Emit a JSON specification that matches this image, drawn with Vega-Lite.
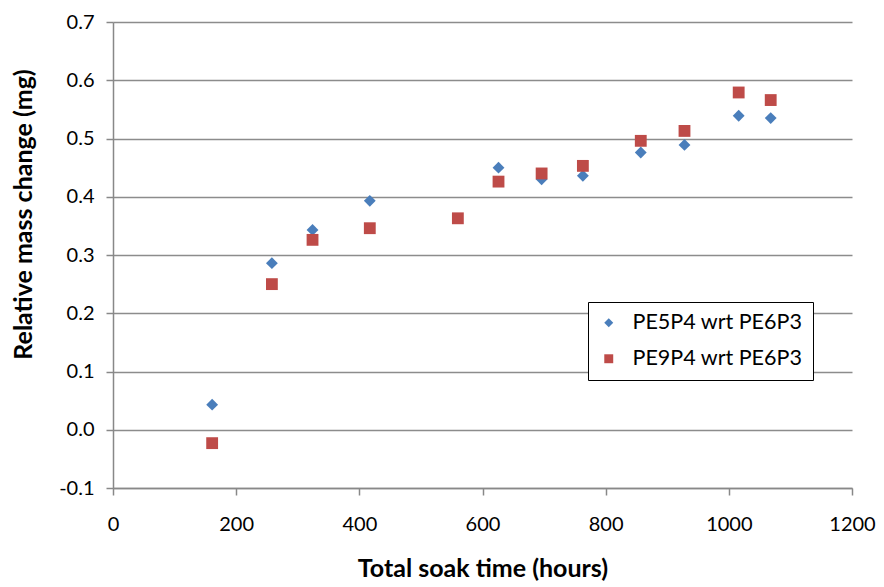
{
  "$schema": "https://vega.github.io/schema/vega-lite/v6.json",
  "width": 739,
  "height": 466,
  "autosize": {"type": "none"},
  "padding": {"left": 113, "top": 22, "right": 32, "bottom": 99},
  "background": "white",
  "config": {
    "font": "Lato",
    "view": {"stroke": null}
  },
  "data": {
    "values": [
      {"series": "PE5P4 wrt PE6P3", "time": 161, "change": 0.043},
      {"series": "PE5P4 wrt PE6P3", "time": 258, "change": 0.286},
      {"series": "PE5P4 wrt PE6P3", "time": 324, "change": 0.343},
      {"series": "PE5P4 wrt PE6P3", "time": 417, "change": 0.393},
      {"series": "PE5P4 wrt PE6P3", "time": 626, "change": 0.450},
      {"series": "PE5P4 wrt PE6P3", "time": 696, "change": 0.430},
      {"series": "PE5P4 wrt PE6P3", "time": 763, "change": 0.436},
      {"series": "PE5P4 wrt PE6P3", "time": 857, "change": 0.476},
      {"series": "PE5P4 wrt PE6P3", "time": 928, "change": 0.489},
      {"series": "PE5P4 wrt PE6P3", "time": 1016, "change": 0.539},
      {"series": "PE5P4 wrt PE6P3", "time": 1068, "change": 0.535},
      {"series": "PE9P4 wrt PE6P3", "time": 161, "change": -0.023},
      {"series": "PE9P4 wrt PE6P3", "time": 258, "change": 0.250},
      {"series": "PE9P4 wrt PE6P3", "time": 324, "change": 0.326},
      {"series": "PE9P4 wrt PE6P3", "time": 417, "change": 0.346},
      {"series": "PE9P4 wrt PE6P3", "time": 560, "change": 0.363},
      {"series": "PE9P4 wrt PE6P3", "time": 626, "change": 0.426},
      {"series": "PE9P4 wrt PE6P3", "time": 696, "change": 0.440},
      {"series": "PE9P4 wrt PE6P3", "time": 763, "change": 0.453},
      {"series": "PE9P4 wrt PE6P3", "time": 857, "change": 0.496},
      {"series": "PE9P4 wrt PE6P3", "time": 928, "change": 0.513},
      {"series": "PE9P4 wrt PE6P3", "time": 1016, "change": 0.579},
      {"series": "PE9P4 wrt PE6P3", "time": 1068, "change": 0.566}
    ]
  },
  "mark": {"type": "point", "filled": true, "opacity": 1},
  "encoding": {
    "x": {
      "field": "time",
      "type": "quantitative",
      "scale": {"domain": [0, 1200], "nice": false, "zero": false},
      "axis": {
        "title": "Total soak time (hours)",
        "values": [0, 200, 400, 600, 800, 1000, 1200],
        "format": "d",
        "grid": false,
        "domainColor": "#888888",
        "domainWidth": 1.5,
        "tickColor": "#888888",
        "tickWidth": 1.5,
        "tickSize": 7,
        "labelPadding": 19,
        "labelFontSize": 20,
        "labelColor": "black",
        "labelFlush": false,
        "titleFontSize": 25,
        "titleFontWeight": "bold",
        "titleColor": "black",
        "titlePadding": 22
      }
    },
    "y": {
      "field": "change",
      "type": "quantitative",
      "scale": {"domain": [-0.1, 0.7], "nice": false, "zero": false},
      "axis": {
        "title": "Relative mass change (mg)",
        "values": [-0.1, 0, 0.1, 0.2, 0.3, 0.4, 0.5, 0.6, 0.7],
        "labelExpr": "replace(format(datum.value, '.1f'), '\u2212', '-')",
        "grid": true,
        "gridColor": "#8c8c8c",
        "gridWidth": 1.5,
        "domainColor": "#888888",
        "domainWidth": 1.5,
        "tickColor": "#888888",
        "tickWidth": 1.5,
        "tickSize": 7,
        "labelPadding": 12,
        "labelFontSize": 20,
        "labelColor": "black",
        "labelFlush": false,
        "titleFontSize": 25,
        "titleFontWeight": "bold",
        "titleColor": "black",
        "titlePadding": 22,
        "titleY": 192
      }
    },
    "color": {
      "field": "series",
      "type": "nominal",
      "scale": {"domain": ["PE5P4 wrt PE6P3", "PE9P4 wrt PE6P3"], "range": ["#4A7EBB", "#BE4B48"]},
      "legend": {
        "title": null,
        "orient": "none",
        "legendX": 475,
        "legendY": 280,
        "strokeColor": "black",
        "fillColor": "white",
        "padding": 10,
        "labelFontSize": 21.5,
        "labelLimit": 400,
        "labelColor": "black",
        "symbolSize": 80,
        "rowPadding": 13,
        "labelOffset": 13,
        "encode": {"legend": {"update": {"strokeWidth": {"value": 1.5}}}}
      }
    },
    "shape": {
      "field": "series",
      "type": "nominal",
      "scale": {"domain": ["PE5P4 wrt PE6P3", "PE9P4 wrt PE6P3"], "range": ["diamond", "square"]}
    },
    "size": {"value": 140}
  }
}
